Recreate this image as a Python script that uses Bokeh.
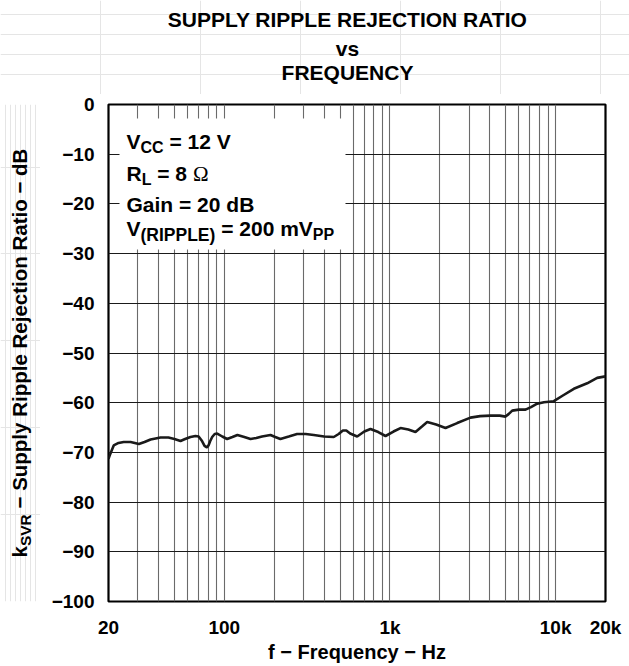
import math
from bokeh.plotting import figure
from bokeh.layouts import row, column
from bokeh.models import Range1d, FixedTicker, Label, BoxAnnotation
from bokeh.embed import file_html
from bokeh.resources import INLINE

# ---------------- data ----------------
freq_hz = [20, 20.5, 21.5, 23, 24.7, 27.2, 30.5, 33, 35.9, 41.2, 46, 50, 54.4,
           58, 62.5, 67, 70, 73, 76, 78.5, 80.3, 82, 84.5, 87.5, 90.6, 97.2,
           104, 112, 120, 132, 144, 156, 169, 190, 203, 218, 245, 275, 310,
           347, 400, 458, 490, 520, 545, 575, 634, 700, 763, 850, 940, 1050,
           1158, 1290, 1426, 1560, 1678, 1900, 2164, 2546, 3062, 3500, 4046,
           4600, 4984, 5200, 5470, 6000, 6578, 7100, 7740, 8500, 9750, 11000,
           12876, 15506, 17817, 20000]
ksvr_db = [-71.3, -70.3, -68.6, -68.1, -67.9, -67.9, -68.3, -67.9, -67.4, -67.0,
           -67.0, -67.3, -67.7, -67.3, -66.9, -66.7, -66.8, -67.6, -68.7, -69.0,
           -68.6, -67.8, -66.9, -66.3, -66.2, -66.8, -67.3, -66.9, -66.5, -66.9,
           -67.3, -67.1, -66.8, -66.5, -66.9, -67.3, -66.8, -66.3, -66.3, -66.5,
           -66.8, -66.9, -66.3, -65.6, -65.6, -66.2, -66.8, -65.8, -65.3, -65.9,
           -66.7, -65.8, -65.1, -65.4, -65.9, -64.8, -63.9, -64.4, -65.1, -64.1,
           -63.0, -62.7, -62.6, -62.6, -62.8, -62.3, -61.6, -61.4, -61.4, -60.9,
           -60.2, -59.9, -59.7, -58.6, -57.2, -56.1, -55.0, -54.7]

x_tick_values = [20, 100, 1000, 10000, 20000]
x_tick_labels = ["20", "100", "1k", "10k", "20k"]
y_tick_values = [-100, -90, -80, -70, -60, -50, -40, -30, -20, -10, 0]
y_tick_labels = ["\u2212100", "\u221290", "\u221280", "\u221270", "\u221260", "\u221250",
                 "\u221240", "\u221230", "\u221220", "\u221210", "0"]
x_grid_values = [30, 40, 50, 60, 70, 80, 90,
                 100, 200, 300, 400, 500, 600, 700, 800, 900,
                 1000, 2000, 3000, 4000, 5000, 6000, 7000, 8000, 9000, 10000]
y_grid_values = [-90, -80, -70, -60, -50, -40, -30, -20, -10]

title_lines = ["SUPPLY RIPPLE REJECTION RATIO", "vs", "FREQUENCY"]
x_label = "f \u2212 Frequency \u2212 Hz"

FONT = "Liberation Sans"
SERIF = "Liberation Serif"

# Helvetica-Bold advance widths (1/1000 em)
W = {' ': 278, '(': 333, ')': 333, '=': 584, '\u2212': 584,
     'A': 722, 'B': 722, 'C': 722, 'E': 667, 'F': 611, 'G': 778, 'H': 722,
     'I': 278, 'J': 556, 'L': 611, 'N': 722, 'O': 778, 'P': 667, 'Q': 778,
     'R': 722, 'S': 667, 'T': 611, 'U': 722, 'V': 667, 'Y': 667,
     'a': 556, 'c': 556, 'd': 611, 'e': 556, 'f': 333, 'i': 278, 'j': 278,
     'k': 556, 'l': 278, 'm': 889, 'n': 611, 'o': 611, 'p': 611, 'q': 611,
     'r': 389, 't': 333, 'u': 611, 'y': 556, 'z': 500, '\u03a9': 768}
for d in "0123456789":
    W[d] = 556


def text_width(s, size):
    return sum(W.get(c, 600) for c in s) * size / 1000.0


def add_label(fig, x, y, text, size, font=FONT, style="bold", align="left",
              baseline="alphabetic", angle=0.0):
    fig.add_layout(Label(x=x, y=y, x_units="screen", y_units="screen", text=text,
                         text_font=font, text_font_style=style,
                         text_font_size=f"{size}px", text_color="black",
                         text_align=align, text_baseline=baseline, angle=angle))


def rich_line(fig, x0, y0, segments, angle=0.0):
    """segments: (text, size, dy, font, style); dy<0 lowers (subscript)."""
    pos = x0 if angle == 0 else y0
    for text, size, dy, font, style in segments:
        lead = len(text) - len(text.lstrip(" "))
        pos += text_width(" " * lead, size)
        body = text.strip(" ")
        if angle == 0:
            add_label(fig, pos, y0 + dy, body, size, font, style)
        else:
            add_label(fig, x0 - dy, pos, body, size, font, style, angle=angle)
        pos += text_width(text.lstrip(" "), size)


def text_canvas(w, h):
    f = figure(width=w, height=h, x_range=Range1d(0, w), y_range=Range1d(0, h),
               output_backend="svg", toolbar_location=None,
               x_axis_location=None, y_axis_location=None, min_border=0)
    f.outline_line_color = None
    f.background_fill_color = "white"
    f.border_fill_color = "white"
    return f


# ---------------- title strip ----------------
title_fig = text_canvas(629, 94)
for txt, yy in zip(title_lines, [75.5, 46, 22.5]):
    add_label(title_fig, 347, yy, txt, 21, align="center", baseline="middle")

# ---------------- y-axis label strip (its frame lines up with the chart frame) ----
ylab_fig = text_canvas(40, 572)
rich_line(ylab_fig, 19, 44, [
    ("k", 20.5, 0, FONT, "bold"),
    ("SVR", 15.5, -6, FONT, "bold"),
    (" \u2212 Supply Ripple Rejection Ratio \u2212 dB", 20.5, 0, FONT, "bold"),
], angle=math.pi / 2)

# ---------------- main chart ----------------
p = figure(width=589, height=572, x_axis_type="log",
           x_range=Range1d(20, 20000), y_range=Range1d(-100, 0),
           output_backend="svg", toolbar_location=None,
           min_border_left=68, min_border_right=24,
           min_border_top=10, min_border_bottom=65)
p.background_fill_color = "white"
p.border_fill_color = "white"
p.outline_line_color = "black"
p.outline_line_width = 2.2

p.xgrid.ticker = FixedTicker(ticks=x_grid_values)
p.xgrid.grid_line_color = "#6a6a6a"
p.xgrid.grid_line_width = 1.1
p.ygrid.ticker = FixedTicker(ticks=y_grid_values)
p.ygrid.grid_line_color = "#1a1a1a"
p.ygrid.grid_line_width = 1.1

for ax in (p.xaxis[0], p.yaxis[0]):
    ax.axis_line_color = None
    ax.major_tick_line_color = None
    ax.minor_tick_line_color = None
    ax.major_label_text_font = FONT
    ax.major_label_text_font_style = "bold"
    ax.major_label_text_font_size = "19px"
    ax.major_label_text_color = "black"
p.xaxis.ticker = FixedTicker(ticks=x_tick_values)
p.xaxis.major_label_overrides = {v: t for v, t in zip(x_tick_values, x_tick_labels)}
p.xaxis.major_label_standoff = 9
p.xaxis.axis_label = x_label
p.xaxis.axis_label_text_font = FONT
p.xaxis.axis_label_text_font_style = "bold"
p.xaxis.axis_label_text_font_size = "20px"
p.xaxis.axis_label_text_color = "black"
p.xaxis.axis_label_standoff = 0
p.yaxis.ticker = FixedTicker(ticks=y_tick_values)
p.yaxis.major_label_overrides = {v: t for v, t in zip(y_tick_values, y_tick_labels)}
p.yaxis.major_label_standoff = 8

# white box behind the conditions text (masks the grid)
p.add_layout(BoxAnnotation(left=23.3, right=539, top=-2.8, bottom=-29.2,
                           fill_color="white", fill_alpha=1.0,
                           line_color=None, level="underlay"))

p.line(freq_hz, ksvr_db, line_color="#1a1a1a", line_width=2.6)

# conditions text
LX = 18
rich_line(p, LX, 460, [("V", 21, 0, FONT, "bold"), ("CC", 16, -6, FONT, "bold"),
                       (" = 12 V", 21, 0, FONT, "bold")])
rich_line(p, LX, 428, [("R", 21, 0, FONT, "bold"), ("L", 16, -6, FONT, "bold"),
                       (" = 8 ", 21, 0, FONT, "bold"), ("\u03a9", 21, 0, SERIF, "normal")])
rich_line(p, LX, 397, [("Gain = 20 dB", 21, 0, FONT, "bold")])
rich_line(p, LX, 373, [("V", 21, 0, FONT, "bold"), ("(RIPPLE)", 17.5, -6, FONT, "bold"),
                       (" = 200 mV", 21, 0, FONT, "bold"), ("PP", 16, -6, FONT, "bold")])

layout = column(title_fig, row(ylab_fig, p))
open("out.html", "w").write(file_html(layout, INLINE))
